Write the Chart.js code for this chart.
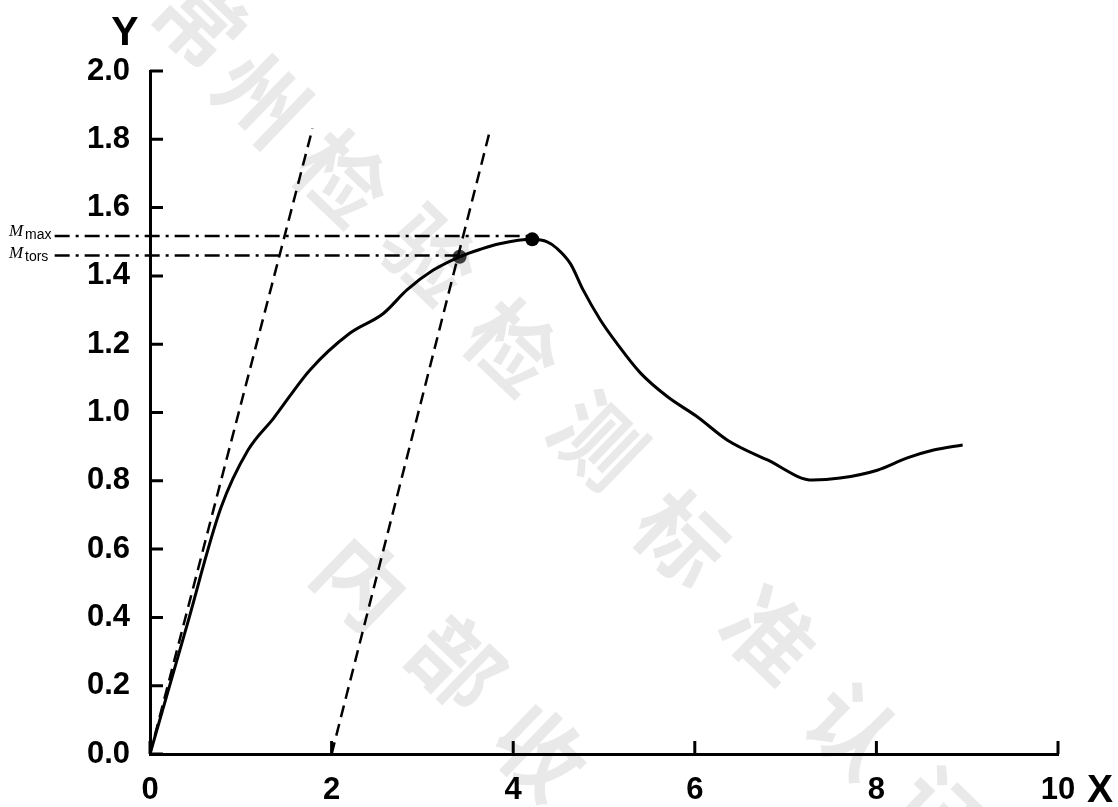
<!DOCTYPE html>
<html>
<head>
<meta charset="utf-8">
<title>Torque curve</title>
<script src="https://cdn.jsdelivr.net/npm/chart.js@4.4.0/dist/chart.umd.min.js"></script>
<style>
  html, body { margin: 0; padding: 0; background: #fff; }
  #wrap { width: 1118px; height: 807px; position: relative; }
</style>
</head>
<body>
<div id="wrap"><canvas id="torqueChart"></canvas></div>
<script>
// measured curve
const curveX = [0, 0.40, 0.78, 1.08, 1.36, 1.76, 2.20, 2.57, 2.83, 3.12, 3.41, 3.64, 3.85, 4.21, 4.38, 4.48, 4.63, 4.77, 4.96, 5.14, 5.40, 5.70, 6.03, 6.36, 6.80, 7.30, 7.60, 8.01, 8.34, 8.63, 8.95];
const curveY = [0, 0.37, 0.72, 0.89, 0.983, 1.124, 1.232, 1.29, 1.359, 1.417, 1.456, 1.478, 1.494, 1.507, 1.499, 1.481, 1.436, 1.359, 1.271, 1.203, 1.116, 1.046, 0.987, 0.919, 0.861, 0.802, 0.808, 0.831, 0.867, 0.89, 0.905];

// dashed construction lines
const tangent1X = [0, 1.79];
const tangent1Y = [0, 1.832];
const tangent2X = [2.0, 3.75];
const tangent2Y = [0, 1.832];

// marked points and their level lines
const maxPointX = 4.21, maxPointY = 1.507;
const torsPointX = 3.41, torsPointY = 1.456;
const levelStartX = -1.05;
const maxLevelY = 1.517;
const torsLevelY = 1.460;

const xTicks = [0, 2, 4, 6, 8, 10];
const yTicks = [0, 0.2, 0.4, 0.6, 0.8, 1.0, 1.2, 1.4, 1.6, 1.8, 2.0];

const watermarkTop = ['常', '州', '检', '验', '检', '测', '标', '准', '认', '证'];
const watermarkBottom = ['内', '部', '收'];

const toPoints = (xs, ys) => xs.map((x, i) => ({ x: x, y: ys[i] }));

const FONT = '"Liberation Sans", Arial, sans-serif';

// watermark drawn behind everything
const watermark = {
    id: 'watermark',
    beforeDraw(chart) {
        const ctx = chart.ctx;
        const topPos = [[200, 20], [262, 98], [342, 178], [430, 255], [513, 347], [598, 440], [682, 538], [770, 635], [853, 730], [940, 815]];
        const bottomPos = [[362, 582], [457, 663], [540, 752]];
        ctx.save();
        ctx.fillStyle = 'rgba(0,0,0,0.085)';
        ctx.font = 'bold 88px "Noto Sans CJK SC"';
        ctx.textAlign = 'center';
        ctx.textBaseline = 'middle';
        const put = (ch, p) => {
            ctx.save();
            ctx.translate(p[0], p[1]);
            ctx.rotate(44 * Math.PI / 180);
            ctx.fillText(ch, 0, 0);
            ctx.restore();
        };
        watermarkTop.forEach((ch, i) => put(ch, topPos[i]));
        watermarkBottom.forEach((ch, i) => put(ch, bottomPos[i]));
        ctx.restore();
    }
};

// ticks pointing into the plot, axis names and the M labels
const decor = {
    id: 'decor',
    afterDraw(chart) {
        const { ctx, chartArea, scales: { x, y } } = chart;
        ctx.save();
        ctx.strokeStyle = '#000';
        ctx.lineWidth = 3;
        ctx.beginPath();
        yTicks.forEach(v => {
            const py = y.getPixelForValue(v);
            ctx.moveTo(chartArea.left, py);
            ctx.lineTo(chartArea.left + 13, py);
        });
        xTicks.forEach(v => {
            const px = x.getPixelForValue(v);
            ctx.moveTo(px, chartArea.bottom);
            ctx.lineTo(px, chartArea.bottom - 13);
        });
        ctx.stroke();

        ctx.fillStyle = '#000';
        ctx.textAlign = 'center';
        ctx.textBaseline = 'alphabetic';
        ctx.font = 'bold 41px ' + FONT;
        ctx.fillText('Y', 125, 45);
        ctx.font = 'bold 39px ' + FONT;
        ctx.fillText('X', 1100, 802);

        ctx.textAlign = 'left';
        ctx.font = 'italic 17px "Liberation Serif", serif';
        ctx.fillText('M', 9, 236);
        ctx.fillText('M', 9, 258);
        ctx.font = '14px ' + FONT;
        ctx.fillText('max', 25, 239);
        ctx.fillText('tors', 25, 261);
        ctx.restore();
    }
};

const ctx = document.getElementById('torqueChart').getContext('2d');

new Chart(ctx, {
    type: 'scatter',
    data: {
        datasets: [
            {
                data: toPoints([levelStartX, maxPointX], [maxLevelY, maxLevelY]),
                showLine: true,
                borderColor: '#000',
                borderWidth: 2.5,
                borderDash: [15, 6, 3, 6],
                pointRadius: 0,
                clip: false
            },
            {
                data: toPoints([levelStartX, torsPointX], [torsLevelY, torsLevelY]),
                showLine: true,
                borderColor: '#000',
                borderWidth: 2.5,
                borderDash: [15, 6, 3, 6],
                pointRadius: 0,
                clip: false
            },
            {
                data: toPoints(tangent1X, tangent1Y),
                showLine: true,
                borderColor: '#000',
                borderWidth: 2.5,
                borderDash: [12, 7],
                pointRadius: 0
            },
            {
                data: toPoints(tangent2X, tangent2Y),
                showLine: true,
                borderColor: '#000',
                borderWidth: 2.5,
                borderDash: [12, 7],
                pointRadius: 0
            },
            {
                data: toPoints(curveX, curveY),
                showLine: true,
                borderColor: '#000',
                borderWidth: 3,
                pointRadius: 0,
                cubicInterpolationMode: 'monotone'
            },
            {
                data: [{ x: torsPointX, y: torsPointY }],
                pointRadius: 7,
                backgroundColor: '#3c3c3c',
                borderWidth: 0
            },
            {
                data: [{ x: maxPointX, y: maxPointY }],
                pointRadius: 7,
                backgroundColor: '#000',
                borderWidth: 0
            }
        ]
    },
    options: {
        responsive: true,
        maintainAspectRatio: false,
        animation: false,
        layout: { padding: { top: 71, right: 60, left: 0, bottom: 0 } },
        plugins: {
            legend: { display: false },
            tooltip: { enabled: false }
        },
        scales: {
            x: {
                type: 'linear',
                min: 0,
                max: 10,
                afterFit: s => { s.height = 53; },
                afterBuildTicks: s => { s.ticks = xTicks.map(v => ({ value: v })); },
                ticks: {
                    color: '#000',
                    padding: 18,
                    maxRotation: 0,
                    font: { family: FONT, size: 31, weight: 'bold' }
                },
                grid: { display: true, drawOnChartArea: false, drawTicks: false },
                border: { color: '#000', width: 3 }
            },
            y: {
                type: 'linear',
                min: 0,
                max: 2,
                afterFit: s => { s.width = 150; },
                afterBuildTicks: s => { s.ticks = yTicks.map(v => ({ value: v })); },
                ticks: {
                    color: '#000',
                    padding: 20,
                    font: { family: FONT, size: 31, weight: 'bold' },
                    callback: v => v.toFixed(1)
                },
                grid: { display: true, drawOnChartArea: false, drawTicks: false },
                border: { color: '#000', width: 3 }
            }
        }
    },
    plugins: [watermark, decor]
});
</script>
</body>
</html>
